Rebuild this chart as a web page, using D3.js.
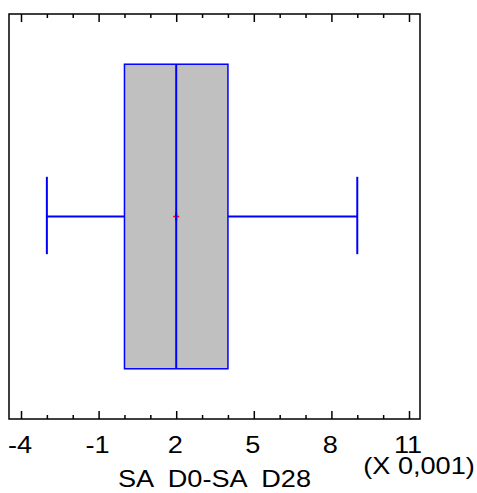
<!DOCTYPE html>
<html>
<head>
<meta charset="utf-8">
<script src="https://cdn.jsdelivr.net/npm/d3@7"></script>
<style>
  body { margin: 0; background: #fff; }
  text { font-family: "Liberation Sans", Arial, sans-serif; }
</style>
</head>
<body>
<svg id="chart" width="477" height="493"></svg>
<script>
// box plot summary, in units of 0.001
const statNames = ["min", "q1", "median", "q3", "max", "mean"];
const statValues = [-3, 0, 2, 4, 9, 2];
const majorTicks = [-4, -1, 2, 5, 8, 11];
const minorTicks = d3.range(-4, 12, 1);
const xTitle = "SA  D0-SA  D28";
const scaleNote = "(X 0,001)";

const stats = {};
statNames.forEach((n, i) => stats[n] = statValues[i]);

const svg = d3.select("#chart");
const plot = {left: 9, right: 420, top: 14, bottom: 419};
const fontSize = 23;
const stretch = 1.18;   // the original text is wider than it is tall

const x = d3.scaleLinear()
    .domain([-4.464, 11.425])
    .range([plot.left, plot.right]);

const y = d3.scaleLinear()
    .domain([0, 1])
    .range([plot.bottom, plot.top]);

// frame
svg.append("rect")
    .attr("x", plot.left)
    .attr("y", plot.top)
    .attr("width", plot.right - plot.left)
    .attr("height", plot.bottom - plot.top)
    .attr("fill", "none")
    .attr("stroke", "#000")
    .attr("stroke-width", 1.5);

// ticks, pointing inward on top and bottom
function drawTicks(vals, len) {
    svg.append("g")
        .attr("transform", "translate(0," + plot.bottom + ")")
        .call(d3.axisBottom(x).tickValues(vals).tickSize(-len).tickFormat(""))
        .call(g => g.select(".domain").remove())
        .selectAll("line").attr("stroke-width", 1.5);
    svg.append("g")
        .attr("transform", "translate(0," + plot.top + ")")
        .call(d3.axisTop(x).tickValues(vals).tickSize(-len).tickFormat(""))
        .call(g => g.select(".domain").remove())
        .selectAll("line").attr("stroke-width", 1.5);
}
drawTicks(minorTicks.filter(t => !majorTicks.includes(t)), 4);
drawTicks(majorTicks, 8);

function label(px, py, txt) {
    return svg.append("text")
        .attr("transform", "translate(" + px + "," + py + ") scale(" + stretch + ",1)")
        .attr("text-anchor", "middle")
        .attr("font-size", fontSize)
        .style("white-space", "pre")
        .text(txt);
}

majorTicks.forEach(t => label(x(t) - 1, 453, t));
label((plot.left + plot.right) / 2, 487, xTitle);
label(419, 474, scaleNote);

// box plot
const boxTop = y(0.876), boxBottom = y(0.124), mid = y(0.5);
const capTop = y(0.598), capBottom = y(0.407);
const blue = "#0000ff";

const g = svg.append("g");

g.append("rect")
    .attr("x", x(stats.q1))
    .attr("y", boxTop)
    .attr("width", x(stats.q3) - x(stats.q1))
    .attr("height", boxBottom - boxTop)
    .attr("fill", "#c0c0c0")
    .attr("stroke", blue)
    .attr("stroke-width", 1.5);

g.append("line")
    .attr("x1", x(stats.median)).attr("x2", x(stats.median))
    .attr("y1", boxTop).attr("y2", boxBottom)
    .attr("stroke", blue).attr("stroke-width", 2);

// whiskers
[[stats.min, stats.q1], [stats.q3, stats.max]].forEach(([a, b]) => {
    g.append("line")
        .attr("x1", x(a)).attr("x2", x(b))
        .attr("y1", mid).attr("y2", mid)
        .attr("stroke", blue).attr("stroke-width", 2);
});
[stats.min, stats.max].forEach(v => {
    g.append("line")
        .attr("x1", x(v)).attr("x2", x(v))
        .attr("y1", capTop).attr("y2", capBottom)
        .attr("stroke", blue).attr("stroke-width", 2);
});

// mean marker
g.append("line")
    .attr("x1", x(stats.mean) - 3).attr("x2", x(stats.mean) + 3)
    .attr("y1", mid).attr("y2", mid)
    .attr("stroke", "#ff0000").attr("stroke-width", 1.5);
g.append("line")
    .attr("x1", x(stats.median)).attr("x2", x(stats.median))
    .attr("y1", mid - 4).attr("y2", mid + 4)
    .attr("stroke", blue).attr("stroke-width", 2);
</script>
</body>
</html>
